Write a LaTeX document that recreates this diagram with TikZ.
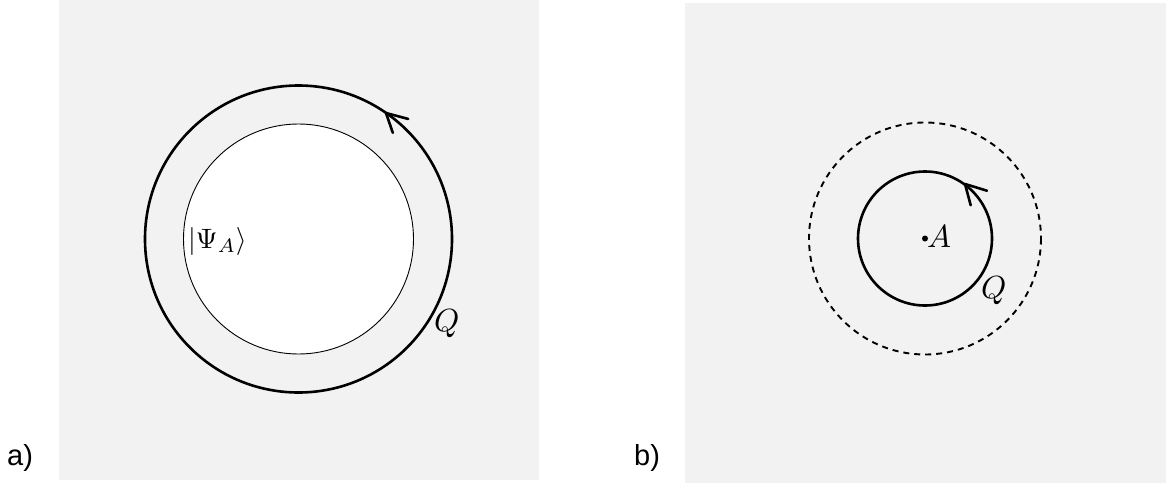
\documentclass[tikz,border=0pt]{standalone}
\usepackage{graphicx}
\usepackage{fontspec}
\newfontfamily\labelfont{Liberation Sans}
\definecolor{panelgray}{HTML}{F2F2F2}
\newcommand{\bigmath}[2][3.2]{\scalebox{#1}{$#2$}}
\begin{document}
\begin{tikzpicture}[x=1pt,y=-1pt,
  panel/.style={fill=panelgray,draw=none},
  thickline/.style={line width=2.6pt},
  thinline/.style={line width=0.9pt},
  dashline/.style={line width=1.9pt,dash pattern=on 6pt off 5pt},
  barb/.style={line width=2.6pt,line cap=round},
  mathlabel/.style={inner sep=0pt,anchor=base west},
  panellabel/.style={inner sep=0pt,anchor=base west,font=\labelfont\fontsize{29}{34}\selectfont}]
\useasboundingbox (0,0) rectangle (1167,485);
\fill[white] (0,0) rectangle (1167,485);
% panels
\fill[panel] (59,0) rectangle (539,480);
\fill[panel] (685,2.5) rectangle (1165.5,482.5);
% panel a
\coordinate (ca) at (298.5,239);
\draw[thickline] (ca) circle[radius=153.5];
\draw[thinline,fill=white] (ca) circle[radius=115];
\coordinate (tipa) at (386,113);
\draw[barb] (tipa) -- ++(15:23);
\draw[barb] (tipa) -- ++(71:21);
\node[mathlabel] (psi) at (188,248) {\bigmath[2.8]{|\Psi_A\rangle}};
\node[mathlabel] (Qa) at (434,331) {\bigmath{Q}};
\node[panellabel] (la) at (7,465) {a)};
% panel b
\coordinate (cb) at (925,238.5);
\draw[dashline] (cb) circle[radius=116];
\draw[thickline] (cb) circle[radius=67];
\fill (cb) circle[radius=3];
\coordinate (tipb) at (965,184);
\draw[barb] (tipb) -- ++(17:23);
\draw[barb] (tipb) -- ++(75:22);
\node[mathlabel] (A) at (927,247) {\bigmath{A}};
\node[mathlabel] (Qb) at (981,298) {\bigmath{Q}};
\node[panellabel] (lb) at (634,465) {b)};
\end{tikzpicture}
\end{document}
